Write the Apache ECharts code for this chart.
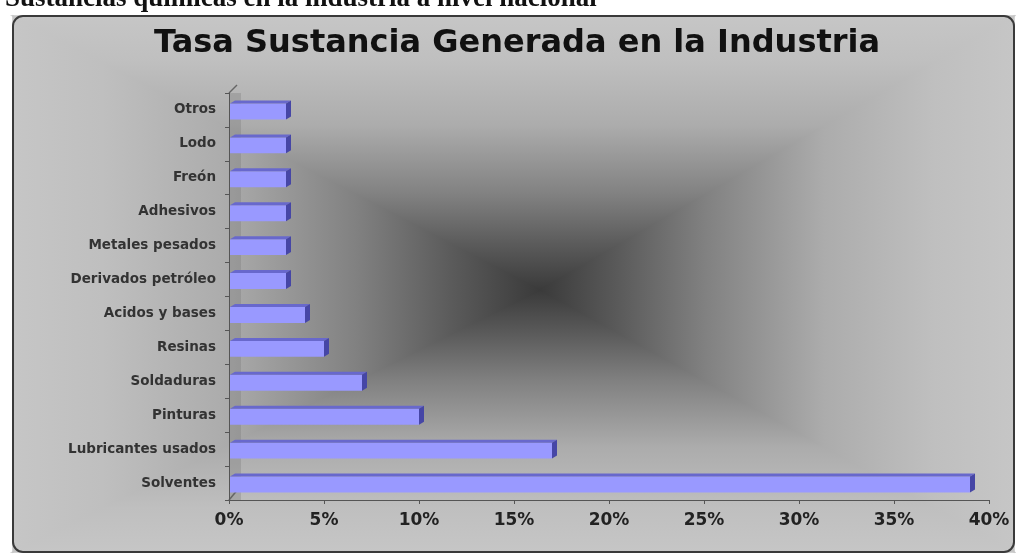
<!DOCTYPE html>
<html>
<head>
<meta charset="utf-8">
<script src="https://cdn.jsdelivr.net/npm/echarts@6/dist/echarts.min.js"></script>
<style>
html,body{margin:0;padding:0;background:#fff;}
#chart{width:1016px;height:556px;}
</style>
</head>
<body>
<div id="chart"></div>
<script>
// ---- data ----
const categories = ['Solventes','Lubricantes usados','Pinturas','Soldaduras','Resinas','Acidos y bases','Derivados petróleo','Metales pesados','Adhesivos','Freón','Lodo','Otros'];
const values = [39, 17, 10, 7, 5, 4, 3, 3, 3, 3, 3, 3];
const xTickLabels = ['0%','5%','10%','15%','20%','25%','30%','35%','40%'];
const titleText = 'Tasa Sustancia Generada en la Industria';
const headingText = 'Sustancias químicas en la industria a nivel nacional';

// ---- layout ----
const W = 1016, H = 556;
const GL = 229, GR = 27, GT = 93, GB = 56;
const FX = 13, FY = 16, FW = 1001, FH = 536;
const CX = 540, CY = 290;

const stops = (rev) => {
  const s = [[0,'#c6c6c6'],[0.17,'#bfbfbf'],[0.4,'#acacac'],[0.65,'#818181'],[0.83,'#5b5b5b'],[1,'#3a3a3a']];
  return s.map(([o,c]) => ({offset: rev ? 1 - o : o, color: c}));
};
const lin = (x2, y2, rev) => ({type:'linear', x:0, y:0, x2:x2, y2:y2, colorStops: stops(rev)});
const tri = (pts, x2, y2, rev) => ({
  type:'polygon', z:-10, shape:{points:pts},
  style:{fill: lin(x2, y2, rev), stroke: lin(x2, y2, rev), lineWidth: 1.5}
});

const chart = echarts.init(document.getElementById('chart'), null, {renderer:'canvas'});

function renderBar(params, api) {
  const v = api.value(0), i = api.value(1);
  const p0 = api.coord([0, i]);
  const p1 = api.coord([v, i]);
  const band = api.size([0, 1])[1];
  const half = band * 0.28;
  const dx = 5, dy = 3;
  const x0 = p0[0] + 1, x1 = p1[0];
  const fT = p0[1] - half + dy, fB = p0[1] + half;
  return {
    type: 'group',
    children: [
      {type:'rect', shape:{x:x0, y:fT, width:x1 - x0, height:fB - fT}, style:{fill:'#9999ff'}},
      {type:'polygon', shape:{points:[[x0,fT],[x1,fT],[x1+dx,fT-dy],[x0+dx,fT-dy]]}, style:{fill:'#6868cc'}},
      {type:'polygon', shape:{points:[[x1,fT],[x1+dx,fT-dy],[x1+dx,fB-dy],[x1,fB]]}, style:{fill:'#4646a6'}}
    ]
  };
}

const option = {
  backgroundColor: '#ffffff',
  animation: false,
  graphic: [
    {type:'text', z:-20, x:5, y:13, style:{text: headingText, font:'bold 27px "Liberation Serif"', fill:'#111', textVerticalAlign:'bottom'}},
    // frame with rectangular ("from center") gradient built from four triangles
    tri([[FX,FY],[FX+FW,FY],[CX,CY]], 0, 1, false),
    tri([[FX,FY+FH],[FX+FW,FY+FH],[CX,CY]], 0, 1, true),
    tri([[FX,FY],[FX,FY+FH],[CX,CY]], 1, 0, false),
    tri([[FX+FW,FY],[FX+FW,FY+FH],[CX,CY]], 1, 0, true),
    {type:'rect', z:-5, shape:{x:FX, y:FY, width:FW, height:FH, r:10}, style:{fill:null, stroke:'#3a3a3a', lineWidth:2}},
    // 3D wall side
    {type:'rect', z:-4, shape:{x:GL, y:GT, width:12, height:H - GB - GT}, style:{fill:'rgba(110,110,110,0.28)'}},
    {type:'line', z:-3, shape:{x1:GL, y1:GT, x2:GL + 8, y2:GT - 8}, style:{stroke:'#666', lineWidth:1.5}},
    {type:'line', z:-3, shape:{x1:GL, y1:H - GB, x2:GL + 10, y2:H - GB - 12}, style:{stroke:'#666', lineWidth:1.5}},
    {type:'text', z:10, x:517, y:44, style:{text:titleText, font:'bold 32px "DejaVu Sans"', fill:'#111', textAlign:'center', textVerticalAlign:'middle'}}
  ],
  grid: {left: GL, right: GR, top: GT, bottom: GB, containLabel: false},
  xAxis: {
    type: 'value', min: 0, max: 40, interval: 5,
    axisLine: {show: true, lineStyle: {color: '#555', width: 1}},
    axisTick: {show: true, length: 4, lineStyle: {color: '#555'}},
    splitLine: {show: false},
    axisLabel: {
      margin: 12, color: '#222', fontFamily: 'DejaVu Sans', fontWeight: 'bold', fontSize: 17,
      formatter: (v) => xTickLabels[Math.round(v / 5)]
    }
  },
  yAxis: {
    type: 'category', data: categories,
    axisLine: {show: true, lineStyle: {color: '#555', width: 1}},
    axisTick: {show: true, length: 4, lineStyle: {color: '#555'}},
    axisLabel: {margin: 13, color: '#333', fontFamily: 'DejaVu Sans', fontWeight: 'bold', fontSize: 13.5}
  },
  series: [{
    type: 'custom',
    renderItem: renderBar,
    encode: {x: 0, y: 1},
    data: values.map((v, i) => [v, i]),
    z: 5
  }]
};
chart.setOption(option);
</script>
</body>
</html>
